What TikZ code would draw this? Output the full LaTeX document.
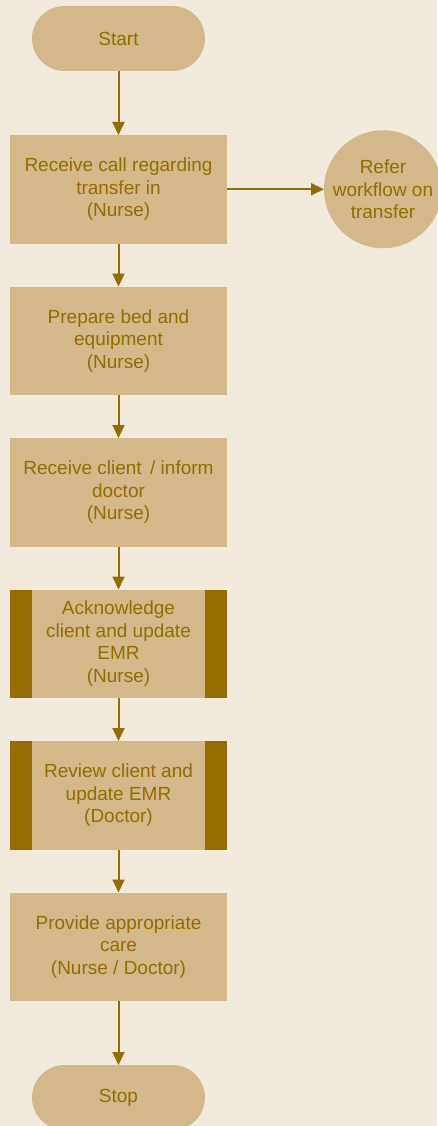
\documentclass[tikz,border=0pt]{standalone}
\usepackage{fontspec}
\setmainfont{Liberation Sans}
\usepackage{tikz}
\usetikzlibrary{positioning, arrows.meta, backgrounds}

\definecolor{bgcol}{RGB}{242,234,220}
\definecolor{boxcol}{RGB}{211,185,138}
\definecolor{darkcol}{RGB}{148,108,0}

\begin{document}
\begin{tikzpicture}
	[-{Triangle[length=13pt,width=12pt]},
	 line width=2pt,
	 draw=darkcol,
	 align=center,
	 node distance=43pt,
	 font=\fontsize{19}{22.5}\selectfont,
	 show background rectangle,
	 inner frame sep=0pt,
	 background rectangle/.style={fill=bgcol, draw=none},
	 base/.style={fill=boxcol, text=darkcol, draw=none, inner sep=3pt, outer sep=0pt},
	 terminal/.style={base, rectangle, rounded corners=32.5pt, minimum width=173pt, minimum height=65pt},
	 process/.style={base, rectangle, minimum width=217pt, minimum height=108.5pt},
	 subproc/.style={process, path picture={
	     \fill[darkcol] (path picture bounding box.south west) rectangle ([xshift=22pt]path picture bounding box.north west);
	     \fill[darkcol] (path picture bounding box.south east) rectangle ([xshift=-22pt]path picture bounding box.north east);}},
	 connector/.style={base, circle, minimum size=118pt, inner sep=0pt}]

	\node[terminal] (start) {Start};
	\useasboundingbox (-118.5pt,38.5pt) rectangle (318.5pt,-1087.5pt);

	\node[process, below = 64pt of start] (call) {Receive call regarding \\ transfer in \\ (Nurse)};
	\node[connector, right = 97pt of call] (refer) {Refer \\ workflow on \\ transfer};
	\node[process, below = of call] (prepare) {Prepare bed and \\ equipment \\ (Nurse)};
	\node[process, below = of prepare] (receive) {Receive client \,/ inform \\ doctor \\ (Nurse)};
	\node[subproc, below = of receive] (ack) {Acknowledge \\ client and update \\ EMR \\ (Nurse)};
	\node[subproc, below = of ack] (review) {Review client and \\ update EMR \\ (Doctor)};
	\node[process, below = of review] (care) {Provide appropriate \\ care \\ (Nurse / Doctor)};
	\node[terminal, below = 64pt of care] (stop) {Stop};

	\draw [darkcol]
	(start) edge (call)
	(call) edge (refer)
	(call) edge (prepare)
	(prepare) edge (receive)
	(receive) edge (ack)
	(ack) edge (review)
	(review) edge (care)
	(care) edge (stop)
	;
\end{tikzpicture}
\end{document}
